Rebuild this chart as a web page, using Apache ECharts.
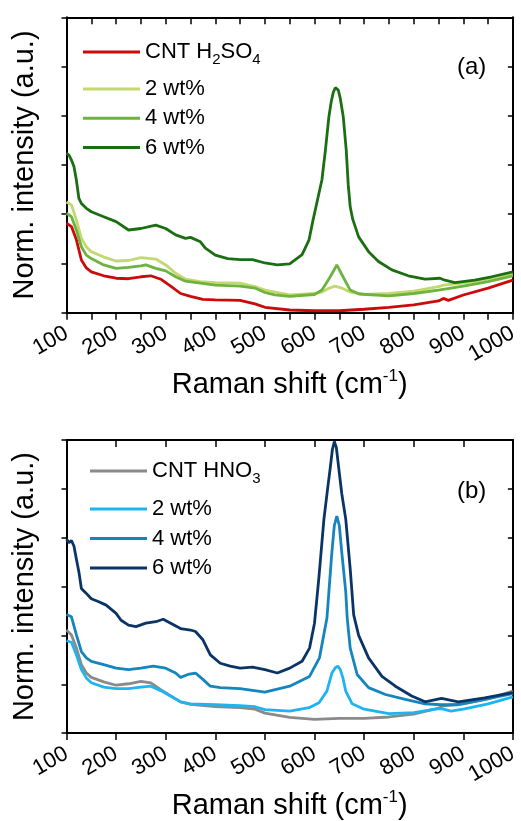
<!DOCTYPE html>
<html>
<head>
<meta charset="utf-8">
<script src="https://cdn.jsdelivr.net/npm/echarts@6/dist/echarts.min.js"></script>
<style>
html,body{margin:0;padding:0;background:#fff;}
#chart{width:521px;height:821px;}
</style>
</head>
<body>
<div id="chart"></div>
<script>
// ---------- data (Raman shift in cm-1, normalized intensity in a.u.) ----------
const xTicks = [100, 200, 300, 400, 500, 600, 700, 800, 900, 1000];
const namesA = ['CNT H2SO4', '2 wt%', '4 wt%', '6 wt%'];
const namesB = ['CNT HNO3', '2 wt% ', '4 wt% ', '6 wt% '];

const a_cnt = [[100,1.82],[110,1.75],[120,1.48],[130,1.07],[140,0.91],[150,0.83],[175,0.75],[200,0.70],[225,0.69],[250,0.73],[270,0.75],[290,0.68],[310,0.54],[330,0.39],[350,0.33],[375,0.27],[400,0.26],[450,0.25],[480,0.18],[500,0.11],[550,0.055],[600,0.04],[650,0.04],[700,0.07],[750,0.11],[800,0.16],[850,0.24],[860,0.29],[870,0.25],[900,0.36],[950,0.50],[1000,0.66]];
const a_2wt = [[100,2.25],[110,2.19],[120,1.88],[130,1.51],[140,1.34],[150,1.24],[175,1.13],[200,1.05],[225,1.06],[250,1.12],[280,1.09],[300,0.97],[320,0.80],[340,0.68],[370,0.63],[400,0.61],[450,0.60],[480,0.53],[500,0.46],[550,0.36],[600,0.39],[615,0.42],[630,0.50],[641,0.54],[655,0.50],[672,0.42],[700,0.37],[750,0.39],[800,0.44],[850,0.53],[860,0.56],[900,0.60],[950,0.68],[1000,0.78]];
const a_4wt = [[100,2.02],[110,1.95],[120,1.68],[130,1.34],[140,1.17],[150,1.10],[175,0.97],[200,0.90],[225,0.92],[250,0.95],[260,0.97],[280,0.90],[300,0.85],[320,0.73],[340,0.64],[370,0.60],[400,0.56],[450,0.54],[480,0.50],[500,0.41],[520,0.36],[550,0.33],[600,0.37],[615,0.46],[630,0.70],[645,0.97],[658,0.72],[672,0.46],[690,0.38],[750,0.34],[800,0.39],[850,0.46],[900,0.54],[950,0.63],[1000,0.75]];
const a_6wt = [[100,3.24],[105,3.20],[110,3.10],[115,2.97],[120,2.69],[125,2.32],[130,2.22],[140,2.12],[150,2.05],[175,1.95],[200,1.85],[225,1.68],[250,1.71],[280,1.78],[300,1.71],[320,1.58],[340,1.51],[350,1.53],[370,1.44],[380,1.31],[400,1.17],[425,1.10],[450,1.08],[475,1.08],[500,1.01],[525,0.97],[550,0.99],[575,1.18],[589,1.48],[597,1.88],[606,2.29],[615,2.70],[622,3.30],[629,3.98],[634,4.30],[638,4.48],[642,4.57],[645,4.58],[648,4.52],[652,4.35],[658,3.98],[664,3.30],[668,2.60],[672,2.15],[677,1.90],[689,1.54],[709,1.24],[729,1.04],[756,0.87],[789,0.75],[823,0.68],[853,0.70],[863,0.66],[883,0.61],[923,0.66],[957,0.73],[1000,0.83]];

const b_cnt = [[100,2.11],[110,2.01],[120,1.74],[130,1.40],[140,1.23],[150,1.14],[175,1.05],[200,0.98],[225,1.01],[250,1.06],[270,1.03],[290,0.89],[310,0.76],[330,0.64],[350,0.59],[400,0.54],[450,0.52],[480,0.49],[500,0.41],[550,0.32],[600,0.28],[650,0.30],[700,0.30],[750,0.33],[800,0.39],[850,0.51],[860,0.56],[900,0.60],[950,0.70],[1000,0.86]];
const b_2wt = [[100,1.89],[110,1.86],[120,1.60],[130,1.30],[140,1.13],[150,1.03],[175,0.94],[200,0.91],[225,0.91],[250,0.94],[270,0.96],[290,0.87],[310,0.76],[330,0.64],[350,0.60],[400,0.58],[450,0.56],[480,0.54],[500,0.48],[550,0.45],[589,0.52],[609,0.62],[625,0.86],[635,1.23],[642,1.34],[647,1.37],[652,1.30],[657,1.14],[663,0.86],[676,0.60],[700,0.49],[750,0.40],[800,0.42],[850,0.50],[860,0.49],[875,0.45],[900,0.49],[950,0.60],[1000,0.74]];
const b_4wt = [[100,2.43],[110,2.38],[120,2.01],[130,1.67],[140,1.54],[150,1.47],[175,1.40],[200,1.33],[225,1.30],[250,1.33],[275,1.37],[300,1.33],[320,1.23],[330,1.14],[345,1.20],[360,1.23],[375,1.10],[390,0.96],[410,0.93],[450,0.91],[500,0.84],[550,0.96],[590,1.16],[610,1.54],[625,2.35],[629,2.89],[635,3.70],[640,4.25],[645,4.44],[650,4.25],[655,3.70],[663,2.89],[666,2.35],[672,1.74],[686,1.20],[709,0.93],[743,0.79],[783,0.69],[823,0.60],[856,0.58],[887,0.58],[943,0.69],[1000,0.81]];
const b_6wt = [[100,3.97],[105,3.90],[110,3.94],[115,3.83],[120,3.56],[125,3.30],[130,2.96],[140,2.86],[150,2.75],[165,2.69],[180,2.62],[200,2.45],[210,2.31],[225,2.21],[240,2.18],[260,2.25],[280,2.28],[295,2.33],[310,2.25],[330,2.14],[350,2.11],[360,2.08],[375,1.91],[390,1.60],[410,1.43],[430,1.37],[450,1.33],[475,1.35],[500,1.30],[525,1.23],[550,1.33],[575,1.47],[590,1.74],[600,2.25],[609,3.20],[619,4.38],[627,5.05],[632,5.45],[636,5.80],[640,5.97],[644,5.85],[648,5.50],[655,4.90],[663,4.38],[672,3.36],[679,2.42],[689,2.00],[709,1.54],[736,1.16],[763,0.96],[796,0.76],[823,0.64],[856,0.71],[890,0.64],[943,0.72],[1000,0.83]];

const colorsA = ['#cc0a0a', '#c3d86e', '#6db33f', '#1b6f12'];
const colorsB = ['#8a8a8a', '#1eb4f2', '#1485bd', '#0b3466'];

// ---------- chart ----------
const FONT = '"Liberation Sans", Arial, Helvetica, sans-serif';
const chart = echarts.init(document.getElementById('chart'), null, {renderer: 'canvas'});

function bottomAxis(gridIndex, minor) {
  return {
    type: 'value', gridIndex, position: 'bottom', min: 100, max: 1000, interval: 100,
    name: '{t|Raman shift (cm}{s|-1}{t|)}', nameLocation: 'middle', nameGap: 52,
    nameTextStyle: {fontFamily: FONT, color: '#000', rich: {
      t: {fontSize: 29, fontFamily: FONT, color: '#000', lineHeight: 34},
      s: {fontSize: 17, fontFamily: FONT, color: '#000', verticalAlign: 'top', lineHeight: 34}
    }},
    axisLine: {show: true, onZero: false, lineStyle: {color: '#000', width: 2}},
    axisTick: {show: true, inside: false, length: 7, lineStyle: {color: '#000', width: 1.5}},
    minorTick: {show: minor, splitNumber: 2, length: 7, lineStyle: {color: '#000', width: 1.5}},
    axisLabel: {show: true, rotate: 30, margin: 19, fontSize: 22, fontFamily: FONT, color: '#000',
      formatter: v => String(v)},
    splitLine: {show: false}
  };
}
function topAxis(gridIndex, minor) {
  return {
    type: 'value', gridIndex, position: 'top', min: 100, max: 1000, interval: 100,
    axisLine: {show: true, onZero: false, lineStyle: {color: '#000', width: 2}},
    axisTick: {show: true, inside: true, length: 7, lineStyle: {color: '#000', width: 1.5}},
    minorTick: {show: minor, splitNumber: 2, length: 7, lineStyle: {color: '#000', width: 1.5}},
    axisLabel: {show: false}, splitLine: {show: false}
  };
}
function leftAxis(gridIndex) {
  return {
    type: 'value', gridIndex, position: 'left', min: 0, max: 6, interval: 1,
    name: 'Norm. intensity (a.u.)', nameLocation: 'middle', nameGap: 27,
    nameTextStyle: {fontSize: 29, fontFamily: FONT, color: '#000'},
    axisLine: {show: true, onZero: false, lineStyle: {color: '#000', width: 2}},
    axisTick: {show: true, inside: false, length: 5, lineStyle: {color: '#000', width: 1.5}},
    axisLabel: {show: false}, splitLine: {show: false}
  };
}
function rightAxis(gridIndex) {
  return {
    type: 'value', gridIndex, position: 'right', min: 0, max: 6, interval: 1,
    axisLine: {show: true, onZero: false, lineStyle: {color: '#000', width: 2}},
    axisTick: {show: true, inside: true, length: 5, lineStyle: {color: '#000', width: 1.5}},
    axisLabel: {show: false}, splitLine: {show: false}
  };
}
function mkSeries(name, data, color, axisIdx) {
  return {
    name, type: 'line', data, xAxisIndex: axisIdx, yAxisIndex: axisIdx,
    symbol: 'none', showSymbol: false, smooth: false, animation: false,
    lineStyle: {color, width: 2.8}, itemStyle: {color}
  };
}
function legendFmt(name) {
  if (name === 'CNT H2SO4') return '{t|CNT H}{s|2}{t|SO}{s|4}';
  if (name === 'CNT HNO3') return '{t|CNT HNO}{s|3}';
  return '{t|' + name.trim() + '}';
}
function mkLegend(data, left, top, gap, lh) {
  return {
    data, orient: 'vertical', left, top, itemGap: gap, icon: 'rect', padding: 0,
    itemWidth: 57, itemHeight: 3, selectedMode: false,
    formatter: legendFmt,
    textStyle: {fontSize: 22, fontFamily: FONT, color: '#000', lineHeight: lh, rich: {
      t: {fontSize: 22, fontFamily: FONT, color: '#000', lineHeight: lh},
      s: {fontSize: 15, fontFamily: FONT, color: '#000', verticalAlign: 'bottom', lineHeight: lh}
    }}
  };
}

const option = {
  animation: false,
  backgroundColor: '#fff',
  grid: [
    {left: 66.5, right: 6, top: 17.3, bottom: 508.3, containLabel: false},
    {left: 66.5, right: 6, top: 440, bottom: 85.3, containLabel: false}
  ],
  xAxis: [bottomAxis(0, true), topAxis(0, true), bottomAxis(1, false), topAxis(1, false)],
  yAxis: [leftAxis(0), rightAxis(0), leftAxis(1), rightAxis(1)],
  title: [
    {text: '(a)', left: 457, top: 55, padding: 0, textStyle: {fontSize: 24, fontWeight: 'normal', fontFamily: FONT, color: '#000'}},
    {text: '(b)', left: 457, top: 479, padding: 0, textStyle: {fontSize: 24, fontWeight: 'normal', fontFamily: FONT, color: '#000'}}
  ],
  legend: [
    mkLegend([namesA[0]], 83, 37, 0, 30),
    mkLegend(namesA.slice(1), 83, 77, 5.3, 24),
    mkLegend([namesB[0]], 90, 456, 0, 30),
    mkLegend(namesB.slice(1), 90, 497, 5.5, 24)
  ],
  series: [
    mkSeries(namesA[0], a_cnt, colorsA[0], 0),
    mkSeries(namesA[1], a_2wt, colorsA[1], 0),
    mkSeries(namesA[2], a_4wt, colorsA[2], 0),
    mkSeries(namesA[3], a_6wt, colorsA[3], 0),
    mkSeries(namesB[0], b_cnt, colorsB[0], 2),
    mkSeries(namesB[1], b_2wt, colorsB[1], 2),
    mkSeries(namesB[2], b_4wt, colorsB[2], 2),
    mkSeries(namesB[3], b_6wt, colorsB[3], 2)
  ]
};
chart.setOption(option);
</script>
</body>
</html>
